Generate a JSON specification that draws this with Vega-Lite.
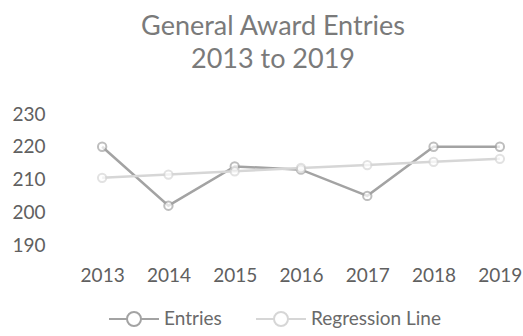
{
  "$schema": "https://vega.github.io/schema/vega-lite/v6.json",
  "autosize": "none",
  "width": 464,
  "height": 131,
  "padding": {"left": 69, "top": 114, "right": 0, "bottom": 91},
  "background": "white",
  "config": {
    "view": {"stroke": null},
    "font": "Lato"
  },
  "title": {
    "text": ["General Award Entries", "2013 to 2019"],
    "fontSize": 27,
    "fontWeight": "normal",
    "color": "#7a7a7a",
    "lineHeight": 33,
    "anchor": "middle",
    "dx": -28,
    "offset": 31
  },
  "data": {
    "values": [
      {"year": "2013", "series": "Entries", "value": 220},
      {"year": "2014", "series": "Entries", "value": 202},
      {"year": "2015", "series": "Entries", "value": 214},
      {"year": "2016", "series": "Entries", "value": 213},
      {"year": "2017", "series": "Entries", "value": 205},
      {"year": "2018", "series": "Entries", "value": 220},
      {"year": "2019", "series": "Entries", "value": 220},
      {"year": "2013", "series": "Regression Line", "value": 210.5},
      {"year": "2014", "series": "Regression Line", "value": 211.5},
      {"year": "2015", "series": "Regression Line", "value": 212.5},
      {"year": "2016", "series": "Regression Line", "value": 213.5},
      {"year": "2017", "series": "Regression Line", "value": 214.4},
      {"year": "2018", "series": "Regression Line", "value": 215.4},
      {"year": "2019", "series": "Regression Line", "value": 216.3}
    ]
  },
  "encoding": {
    "x": {
      "field": "year",
      "type": "ordinal",
      "scale": {"type": "point", "padding": 0.5},
      "axis": {
        "title": null,
        "labelAngle": 0,
        "labelFontSize": 19,
        "labelColor": "#606060",
        "labelPadding": 21,
        "ticks": false,
        "domain": false,
        "grid": false
      }
    },
    "y": {
      "field": "value",
      "type": "quantitative",
      "scale": {"domain": [190, 230], "nice": false, "zero": false},
      "axis": {
        "title": null,
        "values": [190, 200, 210, 220, 230],
        "labelFontSize": 19,
        "labelColor": "#606060",
        "labelPadding": 24,
        "ticks": false,
        "domain": false,
        "grid": false
      }
    },
    "color": {
      "field": "series",
      "type": "nominal",
      "scale": {"domain": ["Entries", "Regression Line"], "range": ["#a3a3a3", "#d6d6d6"]}
    }
  },
  "layer": [
    {
      "mark": {"type": "line", "strokeWidth": 2.5},
      "encoding": {
        "color": {
          "field": "series",
          "type": "nominal",
          "scale": {"domain": ["Entries", "Regression Line"], "range": ["#a3a3a3", "#d6d6d6"]},
          "legend": {
            "title": null,
            "orient": "none",
            "direction": "horizontal",
            "legendX": 39,
            "legendY": 179,
            "labelFontSize": 19,
            "labelColor": "#6a6a6a",
            "symbolType": "M-1,0H-0.3M0.3,0H1M-0.28,0A0.28,0.28 0 1,0 0.28,0A0.28,0.28 0 1,0 -0.28,0",
            "symbolSize": 2500,
            "symbolStrokeWidth": 2,
            "symbolFillColor": "white",
            "labelOffset": 4,
            "columnPadding": 30
          }
        }
      }
    },
    {
      "mark": {"type": "point", "filled": true, "fill": "white", "strokeWidth": 2, "size": 70, "shape": "circle"},
      "encoding": {
        "stroke": {
          "field": "series",
          "type": "nominal",
          "scale": {"domain": ["Entries", "Regression Line"], "range": ["#a3a3a3", "#d6d6d6"]},
          "legend": null
        },
        "color": {"value": "white"}
      }
    }
  ]
}
